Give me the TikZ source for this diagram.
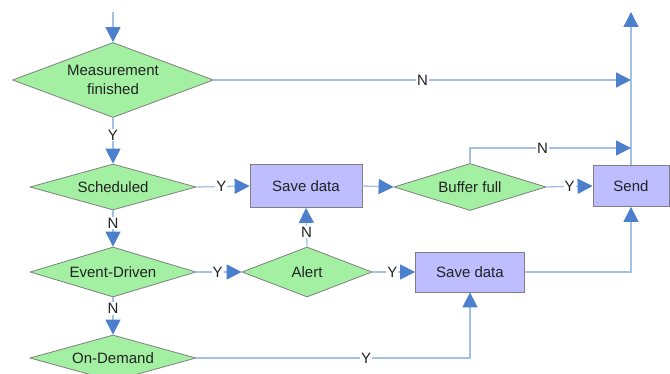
\documentclass[tikz,border=0pt]{standalone}
\usepackage{fontspec}
\setmainfont{Liberation Sans}
\usetikzlibrary{shapes.geometric,arrows.meta}
\definecolor{dgreen}{HTML}{A3F0A3}
\definecolor{plav}{HTML}{BDBDFF}
\definecolor{nodeborder}{HTML}{7F7F7F}
\definecolor{lineblue}{HTML}{A4C0E8}
\definecolor{arrowblue}{HTML}{4C7FCC}
\definecolor{ink}{HTML}{222222}
\begin{document}
\begin{tikzpicture}[x=1pt,y=-1pt,
  every node/.style={font=\fontsize{15}{19}\selectfont, text=ink},
  decision/.style={diamond, draw=nodeborder, fill=dgreen, inner sep=0pt, line width=0.8pt},
  process/.style={rectangle, draw=nodeborder, fill=plav, inner sep=0pt, line width=0.8pt},
  flow/.style={draw=lineblue, line width=1.3pt, -{Triangle[length=15pt,width=15pt,color=arrowblue]}},
  tag/.style={fill=white, inner sep=1pt}]
\useasboundingbox (0,0) rectangle (670,374);
\clip (0,0) rectangle (670,374);

% decisions
\node[decision, minimum width=201pt, minimum height=75pt,
      label={[align=center]center:Measurement\\finished}] (mf) at (113,80) {};
\node[decision, minimum width=166pt, minimum height=46pt,
      label={center:Scheduled}] (sch) at (113,187) {};
\node[decision, minimum width=166pt, minimum height=50pt,
      label={center:Event-Driven}] (ev) at (113,272) {};
\node[decision, minimum width=166pt, minimum height=46pt,
      label={center:On-Demand}] (od) at (113,358) {};
\node[decision, minimum width=130pt, minimum height=50pt,
      label={center:Alert}] (al) at (307,272) {};
\node[decision, minimum width=152pt, minimum height=47pt,
      label={center:Buffer full}] (bf) at (470,187) {};

% processes
\node[process, minimum width=112pt, minimum height=43pt] (sv1) at (306,186) {Save data};
\node[process, minimum width=109pt, minimum height=40pt] (sv2) at (470,272) {Save data};
\node[process, minimum width=76pt, minimum height=41pt] (send) at (631,186) {Send};

% free ends and junctions
\coordinate (start) at (113,12);
\coordinate (finish) at (631,12);
\coordinate (jn1) at (send.north |- mf.east);
\coordinate (jn2) at (631,148);
\coordinate (bfup) at (bf.north |- jn2);

% connectors
\draw[flow] (start) -- (mf.north);
\draw[flow] (mf.east) -- node[tag, pos=0.5]{N} (jn1);
\draw[flow] (send.north) -- (finish);
\draw[flow] (mf.south) -- node[tag, pos=0.38]{Y} (sch.north);
\draw[flow] (sch.east) -- node[tag, pos=0.47]{Y} (sv1.west);
\draw[flow] (sch.south) -- node[tag, pos=0.35]{N} (ev.north);
\draw[flow] (ev.east) -- node[tag, pos=0.47]{Y} (al.west);
\draw[flow] (ev.south) -- node[tag, pos=0.3]{N} (od.north);
\draw[flow] (al.north) -- node[tag, pos=0.38]{N} (sv1.south);
\draw[flow] (al.east) -- node[tag, pos=0.47]{Y} (sv2.west);
\draw[flow] (sv1.east) -- (bf.west);
\draw[flow] (bf.east) -- node[tag, pos=0.5]{Y} (send.west);
\draw[flow] (bf.north) -- (bfup) -- node[tag, pos=0.45]{N} (jn2);
\draw[flow] (sv2.east) -| (send.south);
\draw[flow] (od.east) -| node[tag, pos=0.31]{Y} (sv2.south);
\end{tikzpicture}
\end{document}
